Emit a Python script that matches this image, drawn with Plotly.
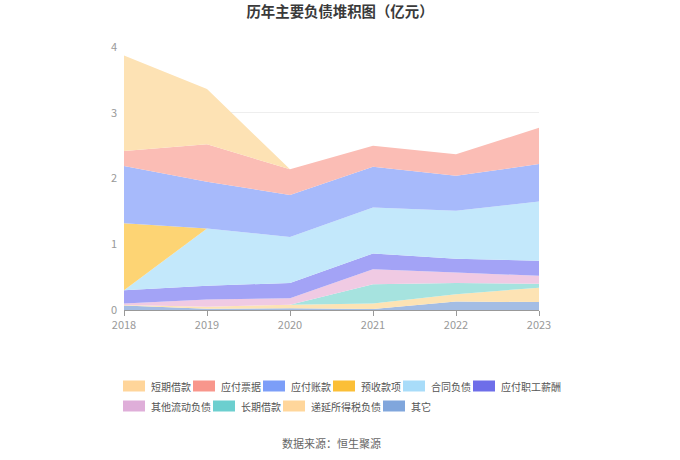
import plotly.graph_objects as go

years = [2018, 2019, 2020, 2021, 2022, 2023]

# 亿元 (bottom layer first)
qita = [0.07, 0.02, 0.025, 0.015, 0.13, 0.12]
diyan_shui = [0.005, 0.03, 0.055, 0.085, 0.11, 0.22]
changqi_jk = [0.0, 0.0, 0.0, 0.29, 0.17, 0.06]
qita_liudong = [0.025, 0.11, 0.10, 0.23, 0.16, 0.12]
zhigong_xc = [0.20, 0.21, 0.23, 0.24, 0.21, 0.23]
hetong_fz = [0.0, 0.87, 0.70, 0.70, 0.73, 0.90]
yushou_kx = [1.02, 0.0, 0.0, 0.0, 0.0, 0.0]
yingfu_zk = [0.87, 0.71, 0.64, 0.62, 0.53, 0.57]
yingfu_pj = [0.23, 0.57, 0.39, 0.32, 0.33, 0.55]
duanqi_jk = [1.45, 0.84, 0.0, 0.0, 0.0, 0.0]

# name, values, area fill, legend swatch
series = [
    ('其它', qita, '#a4bde4', '#80a6dc'),
    ('递延所得税负债', diyan_shui, '#fde3b4', '#ffd69b'),
    ('长期借款', changqi_jk, '#a6e3df', '#6ccfcf'),
    ('其他流动负债', qita_liudong, '#f0cae3', '#dfaed9'),
    ('应付职工薪酬', zhigong_xc, '#a3a3f6', '#6e6ee9'),
    ('合同负债', hetong_fz, '#c3e8fb', '#a8dcf9'),
    ('预收款项', yushou_kx, '#fdd474', '#fbbf37'),
    ('应付账款', yingfu_zk, '#a7bafb', '#7c9ef8'),
    ('应付票据', yingfu_pj, '#fbbdb5', '#f8968c'),
    ('短期借款', duanqi_jk, '#fde2b4', '#ffd59a'),
]

fig = go.Figure()
for name, vals, col, _ in series:
    fig.add_trace(go.Scatter(x=years, y=vals, name=name, mode='lines',
                             stackgroup='one', line=dict(width=0, color=col),
                             fillcolor=col, showlegend=False))

# legend drawn by hand so it wraps like the original (6 + 4 items)
L, R, T, B = 124, 141, 47, 150
W, H = 680, 460
pw, ph = W - L - R, H - T - B


def px_x(x):
    return (x - L) / pw


def px_y(y):
    return (H - B - y) / ph


shapes, annos = [], []
legend_rows = [series[::-1][:6], series[::-1][6:]]
for r, row in enumerate(legend_rows):
    yc = 386 + r * 20
    x = 123
    for name, _, _, swatch in row:
        shapes.append(dict(type='rect', xref='paper', yref='paper',
                           x0=px_x(x), x1=px_x(x + 22),
                           y0=px_y(yc + 5.5), y1=px_y(yc - 5.5),
                           fillcolor=swatch, line=dict(width=0)))
        annos.append(dict(text=name, x=px_x(x + 26), y=px_y(yc), xref='paper',
                          yref='paper', xanchor='left', yanchor='middle',
                          showarrow=False, font=dict(size=10, color='#555')))
        x += 30 + 10 * len(name)

annos.append(dict(text='数据来源：恒生聚源', x=0.5, xref='paper', xanchor='center',
                  y=px_y(443), yref='paper', yanchor='middle', showarrow=False,
                  font=dict(size=11, color='#666')))

fig.update_layout(
    width=W, height=H,
    margin=dict(l=L, r=R, t=T, b=B),
    paper_bgcolor='white', plot_bgcolor='white',
    font=dict(family='Noto Sans CJK SC', size=11, color='#999'),
    title=dict(text='<b>历年主要负债堆积图（亿元）</b>', x=0.5, xanchor='center',
               y=1 - 12 / H, yanchor='middle',
               font=dict(size=14.4, color='#3a3a3a')),
    showlegend=False,
    shapes=shapes,
    annotations=annos,
)
fig.update_xaxes(range=[2018, 2023], tickvals=years, showgrid=False,
                 showline=True, linecolor='#999', ticks='outside', ticklen=5,
                 tickcolor='#999', zeroline=False)
fig.update_yaxes(range=[0, 4], dtick=1, showgrid=True, gridcolor='#eeeeee',
                 zeroline=False, showline=False, ticks='', ticklabelstandoff=6)

fig.write_html("out.html", config={'displayModeBar': False},
               post_script="document.body.style.margin='0';")
